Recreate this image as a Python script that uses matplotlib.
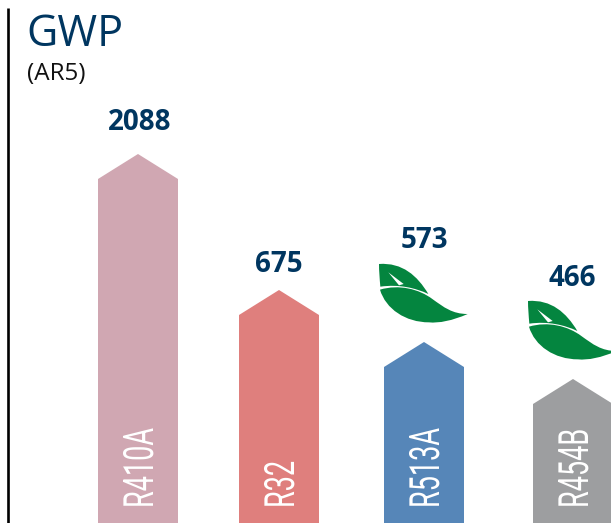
"""GWP of refrigerants, drawn as house-shaped bars."""

import matplotlib
matplotlib.use("Agg")
import matplotlib.patheffects as pe
import matplotlib.pyplot as plt
from matplotlib.patches import PathPatch, Polygon
from matplotlib.path import Path
from matplotlib.transforms import Affine2D

names = ["R410A", "R32", "R513A", "R454B"]
gwp = [2088, 675, 573, 466]
# the bars are pictorial, height is not proportional to gwp
heights = [369, 233, 181, 144]
low_gwp = [False, False, True, True]

colors = ["#D0A7B2", "#DF7F7D", "#5686B8", "#9D9EA0"]
centers = [138, 279, 424, 573]
label_dx = [2, 0, 0, -1]
label_gap = [31, 25, 101, 101]
NAVY = "#003660"
LEAF = "#04853F"
W, H = 611, 523
BAR_W = 80
ROOF = 25

# leaf outlines, traced in zoomed pixels (3x), y pointing down
LEAF_TOP = [(0, 0), (70, -5), (115, 35), (148, 90),
            (110, 72), (60, 60), (4, 68), (2, 45), (0, 20), (0, 0)]
LEAF_BOTTOM = [(3, 77), (60, 60), (120, 75), (160, 105),
               (195, 130), (220, 150), (266, 150),
               (220, 170), (180, 178), (150, 175),
               (80, 175), (20, 135), (3, 77)]
LEAF_VEIN = [(28, 25), (60, 64), (74, 60), (28, 25)]


class Squeeze(pe.AbstractPathEffect):
    """Condense text along its run, there is no condensed font installed."""

    def __init__(self, factor):
        self.factor = factor

    def draw_path(self, renderer, gc, tpath, affine, rgbFace=None):
        squeezed = Affine2D().scale(self.factor, 1) + affine
        renderer.draw_path(gc, tpath, squeezed, rgbFace)


def curve_path(points, x0, y0):
    verts = [(x0 + x / 3, y0 - y / 3) for x, y in points]
    codes = [Path.MOVETO] + [Path.CURVE4] * (len(points) - 1)
    return Path(verts, codes)


def draw_leaf(ax, x0, y0):
    ax.add_patch(PathPatch(curve_path(LEAF_TOP, x0, y0), fc=LEAF, ec="none"))
    ax.add_patch(PathPatch(curve_path(LEAF_BOTTOM, x0, y0), fc=LEAF, ec="none"))
    vein = [(x0 + x / 3, y0 - y / 3) for x, y in LEAF_VEIN]
    ax.add_patch(Polygon(vein, closed=True, fc="white", ec="none"))


fig = plt.figure(figsize=(W / 100, H / 100), dpi=100)
ax = fig.add_axes([0, 0, 1, 1])
ax.set_xlim(0, W)
ax.set_ylim(0, H)
ax.axis("off")

ax.plot([8, 8], [0, H - 8], color="black", lw=1.9, solid_capstyle="butt")

ax.text(26, H - 46, "GWP", fontsize=31, color=NAVY, family="Open Sans", va="baseline")
ax.text(27, H - 80, "(AR5)", fontsize=17.5, color="#111111", family="Open Sans", va="baseline")

for name, value, height, color, cx, dx, gap, leaf in zip(
    names, gwp, heights, colors, centers, label_dx, label_gap, low_gwp
):
    left, right = cx - BAR_W / 2, cx + BAR_W / 2
    ax.add_patch(Polygon(
        [(left, 0), (left, height - ROOF), (cx, height), (right, height - ROOF), (right, 0)],
        closed=True, fc=color, ec="none", clip_on=False,
    ))
    ax.text(
        cx + 24, 15, name, rotation=90, ha="right", va="bottom", color="white",
        fontsize=30, family="Roboto", path_effects=[Squeeze(0.65)],
    )
    if leaf:
        draw_leaf(ax, cx - 45, height + 78)
    ax.text(
        cx + dx, height + gap, f"{value}", ha="center", va="center",
        color=NAVY, fontsize=20, fontweight="bold", family="Open Sans",
    )

fig.savefig("out.png", dpi=100)
